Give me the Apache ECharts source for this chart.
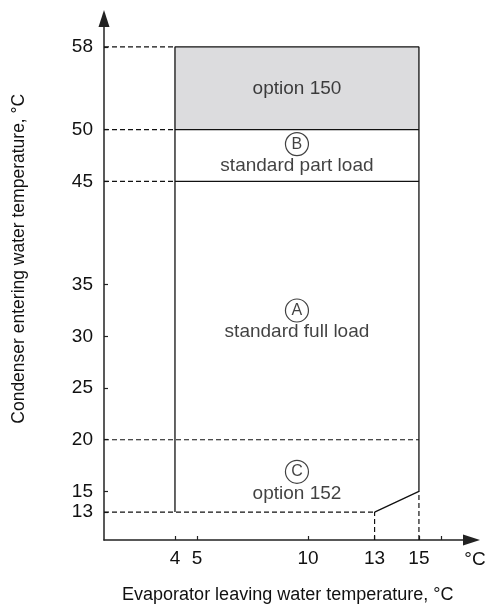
<!DOCTYPE html>
<html><head><meta charset="utf-8">
<script src="https://cdn.jsdelivr.net/npm/echarts@6/dist/echarts.min.js"></script>
<style>html,body{margin:0;padding:0;background:#fff}#c{width:489px;height:609px}</style>
</head><body><div id="c"></div>
<script>
// ---- data ----
const xTicks = [4, 5, 10, 13, 15, 16];
const xTickLabels = ['4', '5', '10', '13', '15', ''];
const yTicks = [13, 15, 20, 25, 30, 35, 45, 50, 58];
const yTickLabels = ['13', '15', '20', '25', '30', '35', '45', '50', '58'];
// operating envelope limits (°C)
const evapMin = 4, evapMax = 15, evapBend = 13;
const condMin = 13, condMax = 58, condAtEvapMax = 15;
const partLoadLow = 45, option150Low = 50, option152High = 20;
const zoneNames = ['option 150', 'standard part load', 'standard full load', 'option 152'];
const zoneLetters = ['', 'B', 'A', 'C'];
// ---- layout (annotation anchors in data units) ----
const xMin = 0.8, xMax = 17.37, yMin = 10.3, yMax = 60.75;
const zoneCenterX = (evapMin + evapMax) / 2;
const zoneTextY = [54, 46.5, 30.4, 14.8];
const zoneLetterY = [null, 48.6, 32.5, 16.9];

const FONT = 'Liberation Sans, Arial, Helvetica, sans-serif';
const INK = '#111';
const solid = { color: INK, width: 1.3, type: 'solid' };
const dashed = { color: INK, width: 1.2, type: [5, 3] };

function lineSeries(points, style, extra) {
  return Object.assign({
    type: 'line', data: points, symbol: 'none', lineStyle: style,
    silent: true, animation: false, z: 3
  }, extra || {});
}

const series = [];
// envelope outline
series.push(lineSeries([
  [evapMin, condMin], [evapMin, condMax], [evapMax, condMax],
  [evapMax, condAtEvapMax], [evapBend, condMin]
], solid, {
  markArea: {
    silent: true,
    itemStyle: { color: '#dcdcde' },
    data: [[{ coord: [evapMin, condMax] }, { coord: [evapMax, option150Low] }]]
  }
}));
// internal solid boundaries
[option150Low, partLoadLow].forEach(v => {
  series.push(lineSeries([[evapMin, v], [evapMax, v]], solid));
});
// dashed guides to the y-axis
[condMax, option150Low, partLoadLow].forEach(v => {
  series.push(lineSeries([[xMin, v], [evapMin, v]], dashed));
});
series.push(lineSeries([[xMin, option152High], [evapMax, option152High]], dashed));
series.push(lineSeries([[xMin, condMin], [evapBend, condMin]], dashed));
// dashed guides to the x-axis
series.push(lineSeries([[evapBend, yMin], [evapBend, condMin]], dashed));
series.push(lineSeries([[evapMax, yMin], [evapMax, condAtEvapMax]], dashed));

// zone texts
series.push({
  type: 'scatter', silent: true, animation: false, z: 5,
  symbolSize: 1, itemStyle: { color: 'rgba(0,0,0,0)' },
  data: zoneNames.map((n, i) => ({ value: [zoneCenterX, zoneTextY[i]], name: n })),
  label: { show: true, position: 'inside', formatter: p => p.name,
    fontSize: 19, color: INK, fontFamily: FONT }
});
// circled letters
series.push({
  type: 'scatter', silent: true, animation: false, z: 5,
  symbol: 'circle', symbolSize: 23,
  itemStyle: { color: '#fff', borderColor: INK, borderWidth: 1.2 },
  data: zoneLetters.map((l, i) => ({ value: [zoneCenterX, zoneLetterY[i]], name: l }))
    .filter(d => d.name),
  label: { show: true, position: 'inside', formatter: p => p.name,
    fontSize: 16, color: INK, fontFamily: FONT }
});

const axisLineStyle = { color: '#222', width: 1.5 };

const option = {
  animation: false,
  backgroundColor: '#fff',
  grid: { left: 104, right: 17.5, top: 18.5, bottom: 68, containLabel: false },
  xAxis: {
    type: 'value', min: xMin, max: xMax,
    axisLine: { show: true, onZero: false, symbol: ['none', 'triangle'], symbolSize: [11, 17],
      lineStyle: axisLineStyle },
    axisTick: { show: true, inside: true, length: 4, customValues: xTicks,
      lineStyle: { color: '#222', width: 1.2 } },
    axisLabel: { customValues: xTicks, margin: 9, fontSize: 19, color: INK, fontFamily: FONT,
      formatter: v => { const i = xTicks.indexOf(+v); return i >= 0 ? xTickLabels[i] : ''; } },
    splitLine: { show: false },
    name: 'Evaporator leaving water temperature, °C',
    nameLocation: 'middle', nameGap: 46,
    nameTextStyle: { fontSize: 18, color: INK, fontFamily: FONT }
  },
  yAxis: {
    type: 'value', min: yMin, max: yMax,
    axisLine: { show: true, onZero: false, symbol: ['none', 'triangle'], symbolSize: [11, 17],
      lineStyle: axisLineStyle },
    axisTick: { show: true, inside: true, length: 4, customValues: yTicks,
      lineStyle: { color: '#222', width: 1.2 } },
    axisLabel: { customValues: yTicks, margin: 11, fontSize: 19, color: INK, fontFamily: FONT,
      formatter: v => { const i = yTicks.indexOf(+v); return i >= 0 ? yTickLabels[i] : ''; } },
    splitLine: { show: false },
    name: 'Condenser entering water temperature, °C',
    nameLocation: 'middle', nameGap: 76,
    nameTextStyle: { fontSize: 17.5, color: INK, fontFamily: FONT, padding: [0, 0, 0, 41] }
  },
  graphic: [{
    type: 'text', x: 475, y: 560,
    style: { text: '°C', fontSize: 19, fill: INK, fontFamily: FONT,
      textAlign: 'center', textVerticalAlign: 'middle' }
  }],
  series: series
};

const chart = echarts.init(document.getElementById('c'), null, { renderer: 'canvas' });
chart.setOption(option);
</script>
</body></html>
